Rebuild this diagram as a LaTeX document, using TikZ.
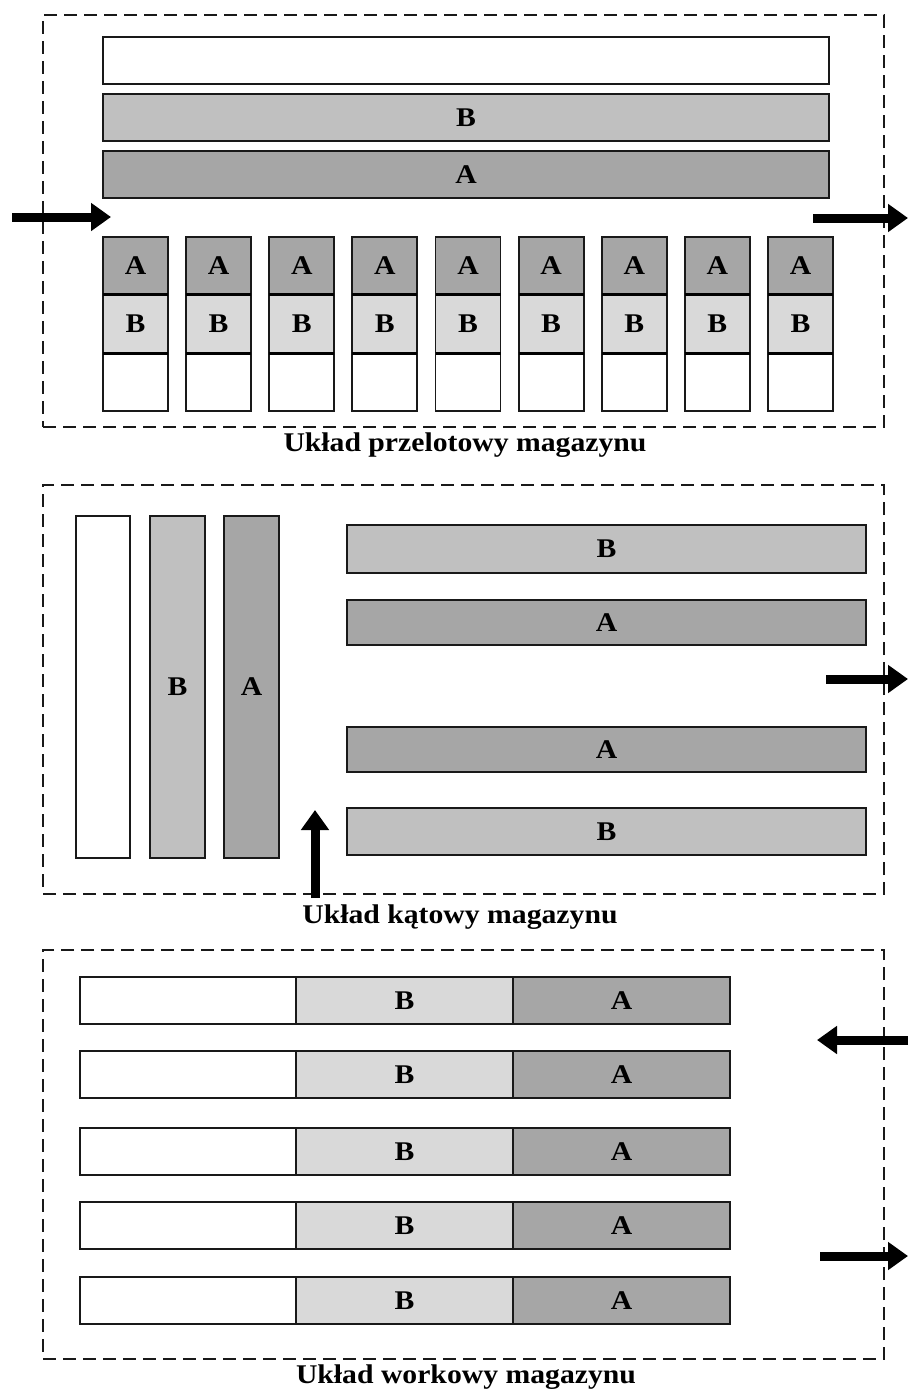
\documentclass[tikz,border=0pt]{standalone}
\usepackage{fontspec}
\setmainfont[FakeStretch=1.1]{Liberation Serif}
\usetikzlibrary{arrows.meta}
\definecolor{cw}{HTML}{FFFFFF}
\definecolor{cb}{HTML}{C0C0C0}
\definecolor{ca}{HTML}{A6A6A6}
\definecolor{cbl}{HTML}{D9D9D9}
\begin{document}
\begin{tikzpicture}[x=1pt,y=-1pt,
  cell/.style={draw=black!90, line width=1.8pt, inner sep=0pt, outer sep=0pt, anchor=north west,
    font=\fontsize{27}{27}\selectfont\bfseries},
  frame/.style={draw=black!90, line width=2pt, dash pattern=on 13pt off 7pt, inner sep=0pt, outer sep=0pt, anchor=north west},
  caption/.style={font=\fontsize{27}{27}\selectfont\bfseries, inner sep=0pt},
  bigarrow/.style={line width=9pt, -{Triangle[length=20pt,width=27pt]}},
  sep/.style={line width=3pt}]
\useasboundingbox (0,0) rectangle (908,1392);

% ---------------- Section 1: przelotowy ----------------
\node[frame, minimum width=841pt, minimum height=412pt] (f1) at (43,15) {};
\node[cell, fill=cw, minimum width=726pt, minimum height=47pt] (t1) at (103,37) {};
\node[cell, fill=cb, minimum width=726pt, minimum height=47pt] (t2) at (103,94) {B};
\node[cell, fill=ca, minimum width=726pt, minimum height=47pt] (t3) at (103,151) {A};
\foreach \i in {0,...,8}{
  \pgfmathsetmacro\xx{103+\i*83.125}
  \node[cell, fill=ca, minimum width=65pt, minimum height=57pt] (ca\i) at (\xx,237) {A};
  \node[cell, fill=cbl, minimum width=65pt, minimum height=59pt] (cb\i) at (\xx,294) {B};
  \node[cell, fill=cw, minimum width=65pt, minimum height=58pt] (cw\i) at (\xx,353) {};
  \draw[sep] (ca\i.south west) -- (ca\i.south east);
  \draw[sep] (cb\i.south west) -- (cb\i.south east);
}
\coordinate (in1s) at (12,217);
\coordinate (in1e) at (111,217);
\draw[bigarrow] (in1s) -- (in1e);
\coordinate (out1s) at (813,218);
\coordinate (out1e) at (908,218);
\draw[bigarrow] (out1s) -- (out1e);
\node[caption] (cap1) at (465,445) {Układ przelotowy magazynu};

% ---------------- Section 2: katowy ----------------
\node[frame, minimum width=841pt, minimum height=409pt] (f2) at (43,485) {};
\node[cell, fill=cw, minimum width=54pt, minimum height=342pt] (v1) at (76,516) {};
\node[cell, fill=cb, minimum width=55pt, minimum height=342pt] (v2) at (150,516) {B};
\node[cell, fill=ca, minimum width=55pt, minimum height=342pt] (v3) at (224,516) {A};
\node[cell, fill=cb, minimum width=519pt, minimum height=48pt] (h1) at (347,525) {B};
\node[cell, fill=ca, minimum width=519pt, minimum height=45pt] (h2) at (347,600) {A};
\node[cell, fill=ca, minimum width=519pt, minimum height=45pt] (h3) at (347,727) {A};
\node[cell, fill=cb, minimum width=519pt, minimum height=47pt] (h4) at (347,808) {B};
\coordinate (up2s) at (315,898);
\coordinate (up2e) at (315,810);
\draw[bigarrow] (up2s) -- (up2e);
\coordinate (out2s) at (826,679);
\coordinate (out2e) at (908,679);
\draw[bigarrow] (out2s) -- (out2e);
\node[caption] (cap2) at (460,917) {Układ kątowy magazynu};

% ---------------- Section 3: workowy ----------------
\node[frame, minimum width=841pt, minimum height=409pt] (f3) at (43,950) {};
\foreach \y [count=\k] in {977,1051,1128,1202,1277}{
  \node[cell, fill=cw, minimum width=216pt, minimum height=47pt] (rw\k) at (80,\y) {};
  \node[cell, fill=cbl, minimum width=217pt, minimum height=47pt] (rb\k) at (296,\y) {B};
  \node[cell, fill=ca, minimum width=217pt, minimum height=47pt] (ra\k) at (513,\y) {A};
}
\coordinate (in3s) at (908,1040);
\coordinate (in3e) at (817,1040);
\draw[bigarrow] (in3s) -- (in3e);
\coordinate (out3s) at (820,1256);
\coordinate (out3e) at (908,1256);
\draw[bigarrow] (out3s) -- (out3e);
\node[caption] (cap3) at (466,1377) {Układ workowy magazynu};
\end{tikzpicture}
\end{document}
